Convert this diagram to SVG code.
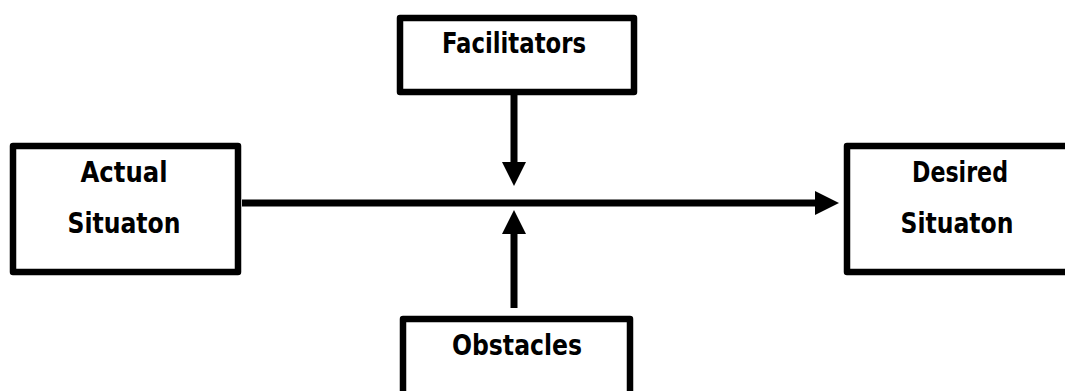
<svg xmlns="http://www.w3.org/2000/svg" width="1065" height="391" viewBox="0 0 1065 391">
<style>
.box{fill:#fff;stroke:#000;stroke-width:6.5;stroke-linejoin:round}
.lbl{font-family:"DejaVu Sans Condensed","DejaVu Sans",sans-serif;font-weight:bold;font-size:28px;fill:#000;text-anchor:middle}
.conn{stroke:#000;stroke-width:7;fill:none}
</style>
<defs>
<marker id="ah" viewBox="0 0 10 10" refX="0" refY="5" markerUnits="userSpaceOnUse" markerWidth="24" markerHeight="24" orient="auto">
<path d="M0,0 L10,5 L0,10 Z" fill="#000"/>
</marker>
</defs>
<g id="connectors">
<line class="conn" x1="242" y1="203" x2="815" y2="203" marker-end="url(#ah)"/>
<line class="conn" x1="514" y1="95" x2="514" y2="162" marker-end="url(#ah)"/>
<line class="conn" x1="514" y1="308" x2="514" y2="234" marker-end="url(#ah)"/>
</g>
<g id="actual">
<rect class="box" x="13" y="146" width="225" height="126"/>
<text class="lbl" x="124" y="182" textLength="87" lengthAdjust="spacingAndGlyphs">Actual</text>
<text class="lbl" x="124" y="233" textLength="113" lengthAdjust="spacingAndGlyphs">Situaton</text>
</g>
<g id="desired">
<rect class="box" x="847" y="146" width="240" height="126"/>
<text class="lbl" x="960" y="182" textLength="96" lengthAdjust="spacingAndGlyphs">Desired</text>
<text class="lbl" x="957" y="233" textLength="113" lengthAdjust="spacingAndGlyphs">Situaton</text>
</g>
<g id="facilitators">
<rect class="box" x="400" y="18" width="234" height="74"/>
<text class="lbl" x="514" y="53" textLength="144" lengthAdjust="spacingAndGlyphs">Facilitators</text>
</g>
<g id="obstacles">
<rect class="box" x="403" y="319" width="227" height="100"/>
<text class="lbl" x="517" y="355" textLength="130" lengthAdjust="spacingAndGlyphs">Obstacles</text>
</g>
</svg>
